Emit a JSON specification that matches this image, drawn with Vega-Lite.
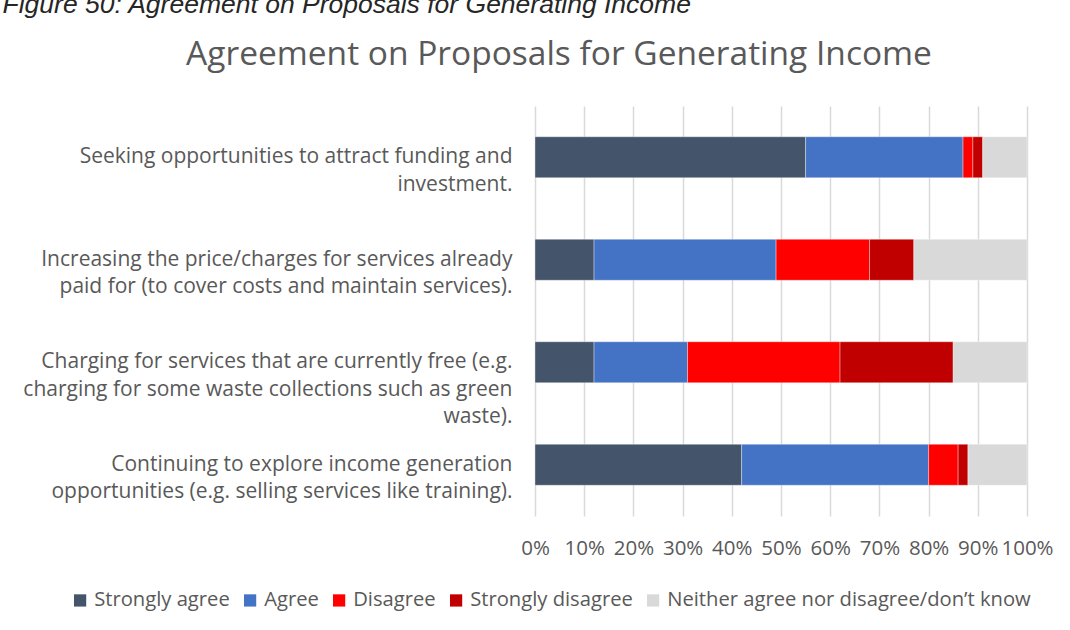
{
  "$schema": "https://vega.github.io/schema/vega-lite/v6.json",
  "width": 492,
  "height": 410,
  "autosize": {"type": "none"},
  "padding": {"left": 535, "top": 106, "right": 43, "bottom": 114},
  "background": "white",
  "title": {
    "text": "Agreement on Proposals for Generating Income",
    "anchor": "middle",
    "frame": "group",
    "dx": -222,
    "offset": -81,
    "fontSize": 33.5,
    "font": "Open Sans",
    "fontWeight": "normal",
    "color": "#595959"
  },
  "data": {
    "values": [
      {"proposal": "Seeking opportunities to attract funding and|investment.", "response": "Strongly agree", "pct": 55},
      {"proposal": "Seeking opportunities to attract funding and|investment.", "response": "Agree", "pct": 32},
      {"proposal": "Seeking opportunities to attract funding and|investment.", "response": "Disagree", "pct": 2},
      {"proposal": "Seeking opportunities to attract funding and|investment.", "response": "Strongly disagree", "pct": 2},
      {"proposal": "Seeking opportunities to attract funding and|investment.", "response": "Neither agree nor disagree/don’t know", "pct": 9},
      {"proposal": "Increasing the price/charges for services already|paid for (to cover costs and maintain services).", "response": "Strongly agree", "pct": 12},
      {"proposal": "Increasing the price/charges for services already|paid for (to cover costs and maintain services).", "response": "Agree", "pct": 37},
      {"proposal": "Increasing the price/charges for services already|paid for (to cover costs and maintain services).", "response": "Disagree", "pct": 19},
      {"proposal": "Increasing the price/charges for services already|paid for (to cover costs and maintain services).", "response": "Strongly disagree", "pct": 9},
      {"proposal": "Increasing the price/charges for services already|paid for (to cover costs and maintain services).", "response": "Neither agree nor disagree/don’t know", "pct": 23},
      {"proposal": "Charging for services that are currently free (e.g.|charging for some waste collections such as green|waste).", "response": "Strongly agree", "pct": 12},
      {"proposal": "Charging for services that are currently free (e.g.|charging for some waste collections such as green|waste).", "response": "Agree", "pct": 19},
      {"proposal": "Charging for services that are currently free (e.g.|charging for some waste collections such as green|waste).", "response": "Disagree", "pct": 31},
      {"proposal": "Charging for services that are currently free (e.g.|charging for some waste collections such as green|waste).", "response": "Strongly disagree", "pct": 23},
      {"proposal": "Charging for services that are currently free (e.g.|charging for some waste collections such as green|waste).", "response": "Neither agree nor disagree/don’t know", "pct": 15},
      {"proposal": "Continuing to explore income generation|opportunities (e.g. selling services like training).", "response": "Strongly agree", "pct": 42},
      {"proposal": "Continuing to explore income generation|opportunities (e.g. selling services like training).", "response": "Agree", "pct": 38},
      {"proposal": "Continuing to explore income generation|opportunities (e.g. selling services like training).", "response": "Disagree", "pct": 6},
      {"proposal": "Continuing to explore income generation|opportunities (e.g. selling services like training).", "response": "Strongly disagree", "pct": 2},
      {"proposal": "Continuing to explore income generation|opportunities (e.g. selling services like training).", "response": "Neither agree nor disagree/don’t know", "pct": 12}
    ]
  },
  "transform": [
    {"calculate": "indexof(['Strongly agree','Agree','Disagree','Strongly disagree','Neither agree nor disagree/don’t know'], datum.response)", "as": "rk"}
  ],
  "mark": {"type": "bar", "stroke": "white", "strokeWidth": 0.6, "strokeOpacity": 0.6},
  "encoding": {
    "y": {
      "field": "proposal",
      "type": "nominal",
      "sort": null,
      "scale": {"paddingInner": 0.6, "paddingOuter": 0.3},
      "axis": {
        "title": "Figure 50: Agreement on Proposals for Generating Income",
        "titleAngle": 0,
        "titleX": -533,
        "titleY": -94,
        "titleAlign": "left",
        "titleBaseline": "alphabetic",
        "titleFont": "Liberation Sans",
        "titleFontStyle": "italic",
        "titleFontWeight": "normal",
        "titleFontSize": 26.5,
        "titleColor": "#262626",
        "titleLimit": 1000,
        "domain": false,
        "ticks": false,
        "grid": false,
        "labelExpr": "split(datum.label, '|')",
        "labelAlign": "right",
        "labelBaseline": "middle",
        "labelLimit": 600,
        "labelPadding": 23,
        "labelFont": "Open Sans",
        "labelFontSize": 21,
        "labelLineHeight": 27.5,
        "labelColor": "#595959"
      }
    },
    "x": {
      "field": "pct",
      "type": "quantitative",
      "stack": "normalize",
      "scale": {"domain": [0, 1], "nice": false},
      "axis": {
        "title": null,
        "values": [0, 0.1, 0.2, 0.3, 0.4, 0.5, 0.6, 0.7, 0.8, 0.9, 1],
        "format": ".0%",
        "domain": false,
        "ticks": false,
        "grid": true,
        "gridColor": "#D9D9D9",
        "gridWidth": 1.5,
        "labelFont": "Open Sans",
        "labelFontSize": 20.5,
        "labelColor": "#595959",
        "labelPadding": 22,
        "labelFlush": false,
        "labelOverlap": false
      }
    },
    "color": {
      "field": "response",
      "type": "nominal",
      "scale": {
        "domain": ["Strongly agree", "Agree", "Disagree", "Strongly disagree", "Neither agree nor disagree/don’t know"],
        "range": ["#44546A", "#4472C4", "#FF0000", "#C00000", "#D9D9D9"]
      },
      "legend": {
        "title": null,
        "orient": "none",
        "direction": "horizontal",
        "legendX": -465,
        "legendY": 484,
        "symbolType": "square",
        "symbolSize": 150,
        "symbolStrokeWidth": 0,
        "labelFont": "Open Sans",
        "labelFontSize": 20.2,
        "labelColor": "#595959",
        "labelOffset": 4,
        "columnSpacing": 6,
        "labelLimit": 500
      }
    },
    "order": {"field": "rk", "type": "quantitative"}
  },
  "config": {
    "view": {"stroke": null}
  }
}
